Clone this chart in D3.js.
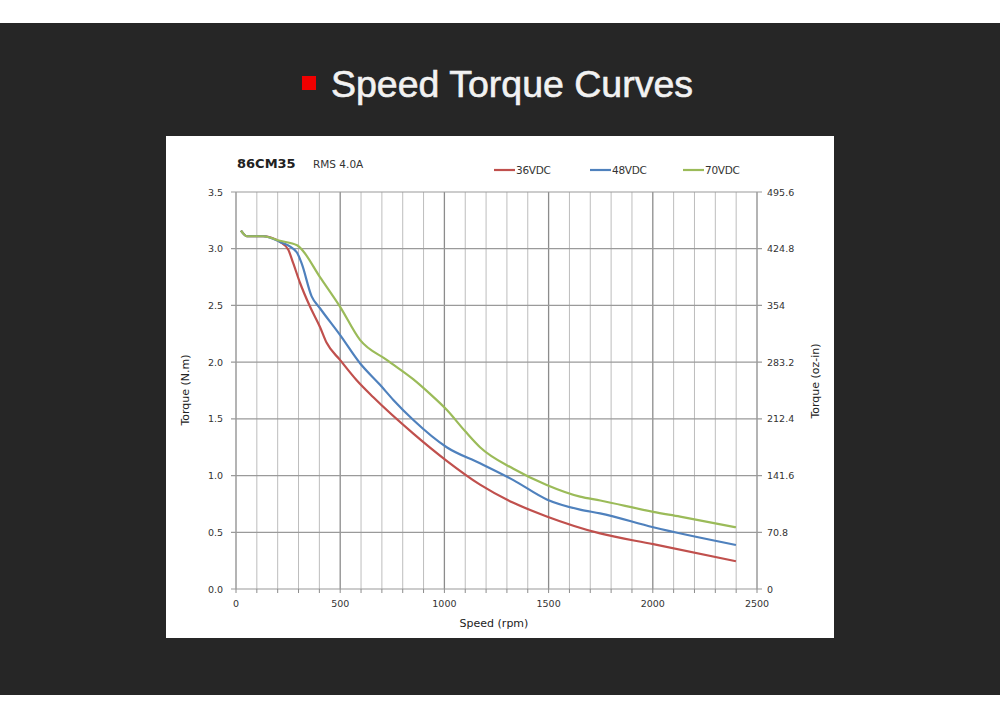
<!DOCTYPE html>
<html><head><meta charset="utf-8">
<script src="https://cdn.jsdelivr.net/npm/d3@7/dist/d3.min.js"></script>
<style>html,body{margin:0;padding:0;background:#fff;}svg{display:block;}</style>
</head><body>
<svg id="c" width="1000" height="721"></svg>
<script>
const speedTicks = [0, 500, 1000, 1500, 2000, 2500];
const torqueTicks = [0.0, 0.5, 1.0, 1.5, 2.0, 2.5, 3.0, 3.5];
const ozTickLabels = ["0", "70.8", "141.6", "212.4", "283.2", "354", "424.8", "495.6"];
const seriesNames = ["36VDC", "48VDC", "70VDC"];
const seriesColors = ["#c0504d", "#4f81bd", "#9bbb59"];
const rpm36 = [24, 53, 130, 211, 251, 275, 307, 355, 403, 435, 499, 579, 659, 851, 1011, 1171, 1331, 1491, 1747, 2002, 2399];
const t36   = [3.16, 3.11, 3.11, 3.06, 2.99, 2.87, 2.70, 2.49, 2.31, 2.17, 2.02, 1.84, 1.69, 1.37, 1.13, 0.92, 0.76, 0.64, 0.49, 0.395, 0.245];
const rpm48 = [24, 53, 130, 211, 291, 315, 363, 403, 499, 595, 691, 755, 851, 1011, 1171, 1331, 1491, 1651, 1747, 2002, 2399];
const t48   = [3.16, 3.11, 3.11, 3.06, 2.97, 2.87, 2.58, 2.475, 2.24, 1.99, 1.80, 1.667, 1.49, 1.25, 1.108, 0.96, 0.79, 0.70, 0.667, 0.544, 0.388];
const rpm70 = [24, 53, 130, 211, 293, 307, 403, 499, 595, 723, 850, 931, 1011, 1100, 1171, 1331, 1491, 1651, 1748, 2002, 2131, 2399];
const t70   = [3.16, 3.11, 3.11, 3.07, 3.03, 3.01, 2.75, 2.49, 2.196, 2.02, 1.85, 1.72, 1.58, 1.39, 1.25, 1.06, 0.917, 0.814, 0.78, 0.68, 0.638, 0.544];

const svg = d3.select("#c");
svg.append("rect").attr("x",0).attr("y",23).attr("width",1000).attr("height",672).attr("fill","#262626");
// title
svg.append("rect").attr("x",302).attr("y",76).attr("width",14).attr("height",14).attr("fill","#f00000");
svg.append("text").attr("x",331).attr("y",97).attr("fill","#f2f2f2")
  .attr("stroke","#f2f2f2").attr("stroke-width",0.6)
  .attr("font-family","Liberation Sans, Arial, sans-serif").attr("font-size",37.5)
  .text("Speed Torque Curves");
// chart panel
svg.append("rect").attr("x",166).attr("y",136).attr("width",668).attr("height",502).attr("fill","#ffffff");

const x = d3.scaleLinear().domain([0,2500]).range([236,757]);
const y = d3.scaleLinear().domain([0,3.5]).range([589,192]);

const g = svg.append("g");
const vg = d3.range(0, 2600, 100);
g.selectAll(".vg").data(vg).enter().append("line")
  .attr("x1",d=>x(d)).attr("x2",d=>x(d)).attr("y1",y(3.5)).attr("y2",y(0))
  .attr("stroke",d=>d%500===0?"#8c8c8c":"#bdbdbd").attr("stroke-width",d=>d%500===0?1.3:1);
g.selectAll(".hg").data(torqueTicks).enter().append("line")
  .attr("x1",x(0)-5).attr("x2",x(2500)+5).attr("y1",d=>y(d)).attr("y2",d=>y(d))
  .attr("stroke","#9a9a9a").attr("stroke-width",1.2);
g.selectAll(".xt").data(vg).enter().append("line")
  .attr("x1",d=>x(d)).attr("x2",d=>x(d)).attr("y1",y(0)).attr("y2",y(0)+4)
  .attr("stroke","#8c8c8c");

const font = "DejaVu Sans, Verdana, sans-serif";
g.selectAll(".yl").data(torqueTicks).enter().append("text")
  .attr("x",223).attr("y",d=>y(d)+3.5).attr("text-anchor","end")
  .attr("font-family",font).attr("font-size",9.5).attr("fill","#333")
  .text(d=>d3.format(".1f")(d));
g.selectAll(".yr").data(ozTickLabels).enter().append("text")
  .attr("x",767).attr("y",(d,i)=>y(torqueTicks[i])+3.5).attr("text-anchor","start")
  .attr("font-family",font).attr("font-size",9.5).attr("fill","#333")
  .text(d=>d);
g.selectAll(".xl").data(speedTicks).enter().append("text")
  .attr("x",d=>x(d)).attr("y",607).attr("text-anchor","middle")
  .attr("font-family",font).attr("font-size",9.5).attr("fill","#333")
  .text(d=>d);
svg.append("text").attr("x",494).attr("y",627).attr("text-anchor","middle")
  .attr("font-family",font).attr("font-size",11).attr("fill","#222").text("Speed (rpm)");
svg.append("text").attr("transform","translate(189,390) rotate(-90)").attr("text-anchor","middle")
  .attr("font-family",font).attr("font-size",11).attr("fill","#222").text("Torque (N.m)");
svg.append("text").attr("transform","translate(819,381) rotate(-90)").attr("text-anchor","middle")
  .attr("font-family",font).attr("font-size",11).attr("fill","#222").text("Torque (oz-in)");
svg.append("text").attr("x",237).attr("y",168).attr("font-family",font).attr("font-weight","bold")
  .attr("font-size",13).attr("fill","#222").text("86CM35");
svg.append("text").attr("x",313).attr("y",168).attr("font-family",font)
  .attr("font-size",10.5).attr("fill","#333").text("RMS 4.0A");

const line = d3.line().x(d=>x(d[0])).y(d=>y(d[1])).curve(d3.curveMonotoneX);
const sets = [d3.zip(rpm36,t36), d3.zip(rpm48,t48), d3.zip(rpm70,t70)];
sets.forEach((s,i)=>{
  svg.append("path").datum(s).attr("d",line).attr("fill","none")
    .attr("stroke",seriesColors[i]).attr("stroke-width",2.2).attr("stroke-linejoin","round");
});
const legX = [494, 590, 683];
seriesNames.forEach((n,i)=>{
  svg.append("line").attr("x1",legX[i]).attr("x2",legX[i]+21).attr("y1",170).attr("y2",170)
    .attr("stroke",seriesColors[i]).attr("stroke-width",2.2);
  svg.append("text").attr("x",legX[i]+22).attr("y",174).attr("font-family",font)
    .attr("font-size",10.5).attr("fill","#333").attr("letter-spacing",-0.3).text(n);
});
</script>
</body></html>
